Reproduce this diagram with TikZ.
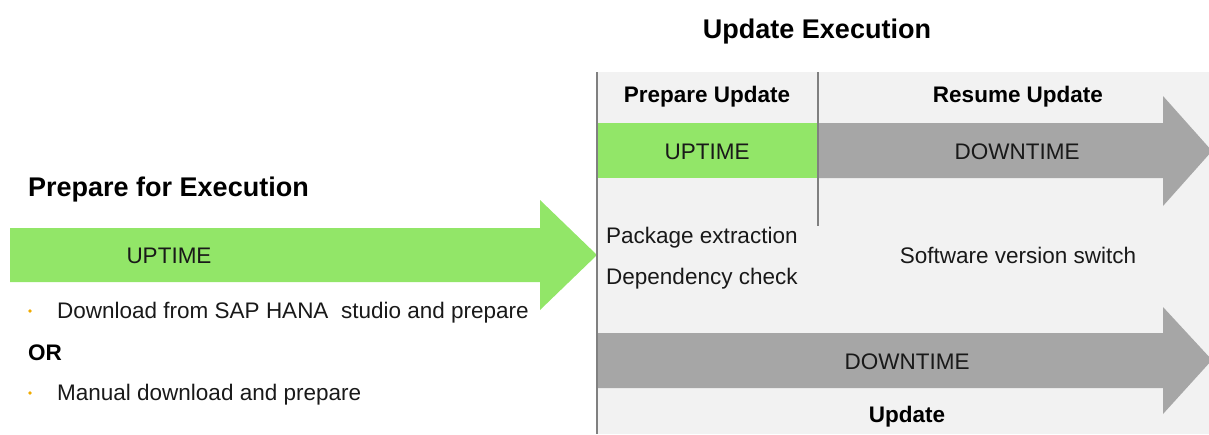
\documentclass[tikz,border=0pt]{standalone}
\usepackage{fontspec}
\setmainfont{Liberation Sans}
\definecolor{upgreen}{RGB}{146,230,104}
\definecolor{downgray}{RGB}{166,166,166}
\definecolor{panelgray}{RGB}{242,242,242}
\definecolor{linegray}{RGB}{128,128,128}
\definecolor{bulletorange}{RGB}{240,171,0}
\tikzset{
  bodytext/.style={font=\fontsize{22.5}{26}\selectfont, inner sep=0pt, text=black!90},
  headtext/.style={font=\fontsize{22.5}{26}\selectfont\bfseries, inner sep=0pt},
  bigtext/.style={font=\fontsize{27}{32}\selectfont\bfseries, inner sep=0pt},
  divider/.style={draw=linegray, line width=2pt},
  bulletdot/.style={circle, fill=bulletorange, inner sep=0pt, minimum size=3.6pt},
}
\begin{document}
\begin{tikzpicture}[x=1pt,y=-1pt]
\useasboundingbox (0,0) rectangle (1209,434);
% panel
\fill[panelgray] (597,72) rectangle (1209,434);
% green uptime cell
\fill[upgreen] (597,123) rectangle (818,178);
% top gray arrow
\fill[downgray] (818,123) -- (1163,123) -- (1163,96) -- (1212,151) -- (1163,206) -- (1163,178) -- (818,178) -- cycle;
% bottom gray arrow
\fill[downgray] (597,333) -- (1163,333) -- (1163,307) -- (1212,360) -- (1163,414) -- (1163,388) -- (597,388) -- cycle;
% green left arrow
\fill[upgreen] (10,228) -- (540,228) -- (540,200) -- (597,255) -- (540,310) -- (540,282) -- (10,282) -- cycle;
% lines
\coordinate (bordertop) at (597,72);
\coordinate (borderbot) at (597,434);
\coordinate (divtop) at (818,72);
\coordinate (divbot) at (818,226);
\draw[divider] (bordertop) -- (borderbot);
\draw[divider] (divtop) -- (divbot);
% texts
\node[bigtext, anchor=base] (title) at (817,38) {Update Execution};
\node[headtext, anchor=base] (prep) at (707,102) {Prepare Update};
\node[headtext, anchor=base] (resume) at (1018,102) {Resume Update};
\node[bodytext, anchor=base] (up1) at (707,159) {UPTIME};
\node[bodytext, anchor=base] (down1) at (1017,159) {DOWNTIME};
\node[bodytext, anchor=base west] (pkg) at (606,243) {Package extraction};
\node[bodytext, anchor=base west] (dep) at (606,284) {Dependency check};
\node[bodytext, anchor=base] (sw) at (1018,263) {Software version switch};
\node[bodytext, anchor=base] (down2) at (907,369) {DOWNTIME};
\node[headtext, anchor=base] (upd) at (907,422) {Update};
\node[bigtext, anchor=base west] (pfe) at (28,196) {Prepare for Execution};
\node[bodytext, anchor=base] (up2) at (169,263) {UPTIME};
\node[bulletdot] (b1) at (30,311) {};
\node[bodytext, anchor=base west] (t1) at (57,318) {Download from SAP HANA\ \ studio and prepare};
\node[headtext, anchor=base west] (or) at (28,360) {OR};
\node[bulletdot] (b2) at (30,393) {};
\node[bodytext, anchor=base west] (t2) at (57,400) {Manual download and prepare};
\end{tikzpicture}
\end{document}
